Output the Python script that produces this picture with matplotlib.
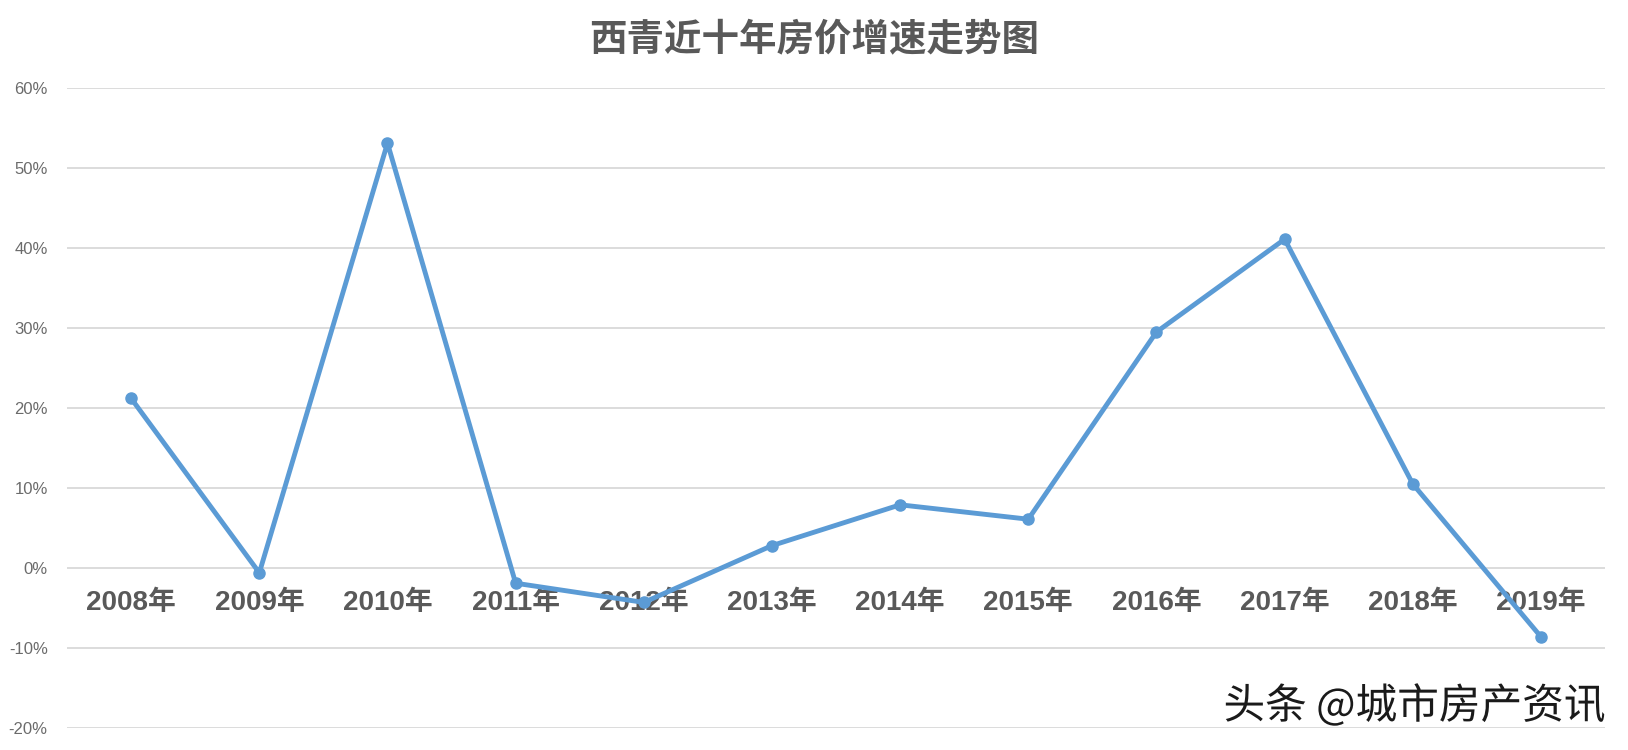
import matplotlib
matplotlib.use("Agg")
import matplotlib.pyplot as plt
import matplotlib.patheffects as pe
from matplotlib.ticker import FuncFormatter

plt.rcParams['font.family'] = ['Liberation Sans', 'Noto Sans CJK SC', 'DejaVu Sans']

# chart data
years = ["2008年", "2009年", "2010年", "2011年", "2012年", "2013年",
         "2014年", "2015年", "2016年", "2017年", "2018年", "2019年"]
growth = [21.2, -0.6, 53.1, -1.9, -4.3, 2.8, 7.9, 6.1, 29.5, 41.1, 10.5, -8.6]
yticks = [-20, -10, 0, 10, 20, 30, 40, 50, 60]

title = "西青近十年房价增速走势图"
watermark = "头条 @城市房产资讯"

GRAY = "#595959"
BLUE = "#5B9BD5"

fig = plt.figure(figsize=(16.28, 7.5), dpi=100)
ax = fig.add_axes([0.0412, 0.0293, 0.9447, 0.8534])

x = list(range(len(years)))
ax.plot(x, growth, color=BLUE, linewidth=3.5, marker="o", markersize=8,
        zorder=3, solid_joinstyle="round")

ax.set_xlim(-0.5, len(years) - 0.5)
ax.set_ylim(yticks[0], yticks[-1])
ax.set_yticks(yticks)
ax.yaxis.set_major_formatter(FuncFormatter(lambda v, p: f"{v:.0f}%"))
ax.tick_params(axis="y", length=0, pad=14, labelsize=12, labelcolor="#6b6b6b")
ax.set_xticks([])
ax.grid(axis="y", color="#D9D9D9", linewidth=1.3)
ax.set_axisbelow(True)
for s in ax.spines.values():
    s.set_visible(False)

# category labels sit just under the zero line, like Excel does
for i, lab in enumerate(years):
    ax.annotate(lab, xy=(i, 0), xytext=(0, -25), textcoords="offset points",
                ha="center", va="center", fontsize=20, fontweight="bold",
                color=GRAY, zorder=2)

fig.text(0.5, 0.947, title, ha="center", va="center", fontsize=27,
         fontweight="bold", color=GRAY,
         family=['Noto Sans CJK SC', 'DejaVu Sans'])

fig.text(0.986, 0.030, watermark, ha="right", va="bottom", fontsize=30,
         color="#1a1a1a", family=['Noto Sans CJK SC', 'DejaVu Sans'],
         path_effects=[pe.withStroke(linewidth=2, foreground="white")])

fig.savefig("out.png", dpi=100, facecolor="white")
